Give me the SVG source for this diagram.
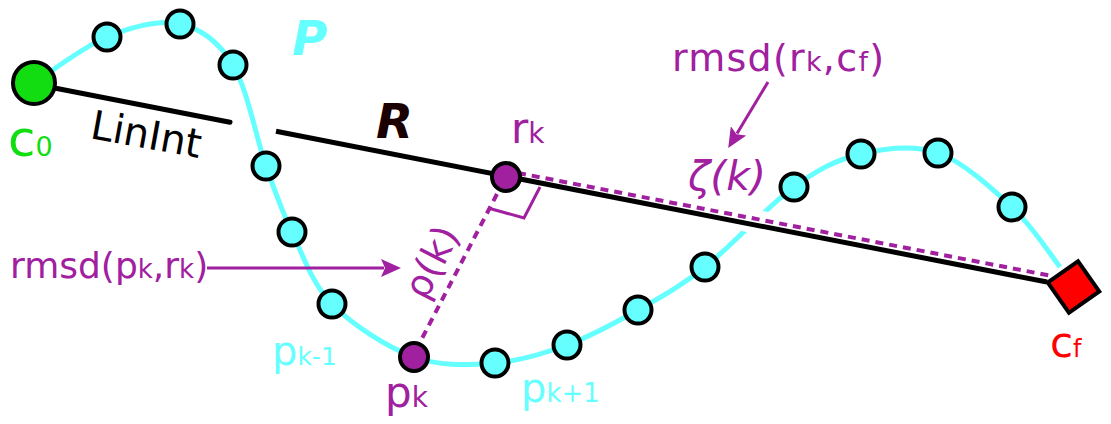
<svg xmlns="http://www.w3.org/2000/svg" width="1111" height="424" viewBox="0 0 1111 424">
<style>
text{font-family:"DejaVu Sans","Liberation Sans",sans-serif}
.pt{fill:#66ffff;stroke:#000;stroke-width:4}
.pp{fill:#a020a0;stroke:#000;stroke-width:4}
.purple{fill:#a020a0}
.cyan{fill:#66ffff}
.dash{fill:none;stroke:#a020a0;stroke-width:4;stroke-dasharray:8 6}
.arr{fill:none;stroke:#a020a0;stroke-width:3}
</style>
<defs>
<marker id="ah" markerUnits="userSpaceOnUse" viewBox="0 0 20 18" refX="3" refY="9" markerWidth="20" markerHeight="18" orient="auto">
<path d="M0,0 L20,9 L0,18 L4,9 z" fill="#a020a0"/>
</marker>
</defs>
<g id="connectors">
<path id="curveP" fill="none" stroke="#66ffff" stroke-width="5" d="M34,83 C46.2,75.3 82.7,46.8 107,37 C131.3,27.2 159,19.3 180,24 C201,28.7 218.7,41.3 233,65 C247.3,88.7 256.2,138.2 266,166 C275.8,193.8 281,209 292,232 C303,255 311.7,283.2 332,304 C352.3,324.8 386.8,347.2 414,357 C441.2,366.8 469.5,365 495,363 C520.5,361 543.2,353.8 567,345 C590.8,336.2 615,323 638,310 C661,297 679,287.5 705,267 C731,246.5 768,205.8 794,187 C820,168.2 837,159.7 861,154 C885,148.3 912.8,144.2 938,153 C963.2,161.8 991.7,188 1012,207 C1032.3,226 1052,257 1060,267"/>
<line x1="733" y1="217" x2="777" y2="226" stroke="#fff" stroke-width="24"/>
<line x1="34" y1="84" x2="230" y2="122.3" stroke="#000" stroke-width="5" stroke-linecap="round"/>
<line x1="276" y1="131.3" x2="1047" y2="282" stroke="#000" stroke-width="5"/>
<line class="dash" x1="518" y1="173" x2="1052" y2="276"/>
<line class="dash" x1="497" y1="194" x2="416" y2="350"/>
<polyline fill="none" stroke="#a020a0" stroke-width="3" points="540,187 524,218 488,208"/>
<line class="arr" x1="207" y1="268" x2="384" y2="268" marker-end="url(#ah)"/>
<line class="arr" x1="768" y1="82" x2="737" y2="133.5" marker-end="url(#ah)"/>
</g>
<g id="c0"><circle cx="34" cy="83" r="21" fill="#11dd11" stroke="#000" stroke-width="4"/>
<text x="8" y="156" font-size="50" fill="#11dd11">c<tspan font-size="27">0</tspan></text></g>
<g id="cf"><rect x="-18.5" y="-18.5" width="37" height="37" fill="#ff0000" stroke="#000" stroke-width="4" transform="translate(1073.5,287) rotate(-35)"/>
<text x="1050" y="357" font-size="42" fill="#ff0000">c<tspan font-size="24">f</tspan></text></g>
<g id="points">
<circle class="pt" cx="107" cy="37" r="13.5"/>
<circle class="pt" cx="180" cy="24" r="13.5"/>
<circle class="pt" cx="233" cy="65" r="13.5"/>
<circle class="pt" cx="266" cy="166" r="13.5"/>
<circle class="pt" cx="292" cy="232" r="13.5"/>
<circle class="pt" cx="332" cy="304" r="13.5"/>
<circle class="pt" cx="495" cy="363" r="13.5"/>
<circle class="pt" cx="567" cy="345" r="13.5"/>
<circle class="pt" cx="638" cy="310" r="13.5"/>
<circle class="pt" cx="705" cy="267" r="13.5"/>
<circle class="pt" cx="794" cy="187" r="13.5"/>
<circle class="pt" cx="861" cy="154" r="13.5"/>
<circle class="pt" cx="938" cy="153" r="13.5"/>
<circle class="pt" cx="1012" cy="207" r="13.5"/>
</g>
<g id="pk"><circle class="pp" cx="414" cy="357" r="14"/>
<text class="purple" x="385" y="407" font-size="42">p<tspan font-size="28">k</tspan></text></g>
<g id="rk"><circle class="pp" cx="506" cy="177" r="14"/>
<text class="purple" x="511" y="143" font-size="42">r<tspan font-size="28">k</tspan></text></g>
<g id="labels">
<text x="89" y="138" font-size="40" fill="#000" transform="rotate(10.3 89 138)">LinInt</text>
<text x="376" y="138" font-size="48" font-weight="bold" font-style="italic" fill="#1a0000">R</text>
<text class="cyan" x="292" y="55" font-size="48" font-weight="bold" font-style="italic">P</text>
<text class="purple" x="688" y="190" font-size="41" font-style="italic">ζ(k)</text>
<text class="purple" x="672" y="71" font-size="38" textLength="212" lengthAdjust="spacing">rmsd(r<tspan font-size="27">k</tspan>,c<tspan font-size="27">f</tspan>)</text>
<text class="purple" x="10" y="278" font-size="36">rmsd(p<tspan font-size="26">k</tspan>,r<tspan font-size="26">k</tspan>)</text>
<text class="purple" x="443" y="268" font-size="38" text-anchor="middle" transform="rotate(-63 443 268)">ρ(k)</text>
<text class="cyan" x="272" y="365" font-size="40">p<tspan font-size="25">k-1</tspan></text>
<text class="cyan" x="521" y="402" font-size="40">p<tspan font-size="26">k+1</tspan></text>
</g>
</svg>
